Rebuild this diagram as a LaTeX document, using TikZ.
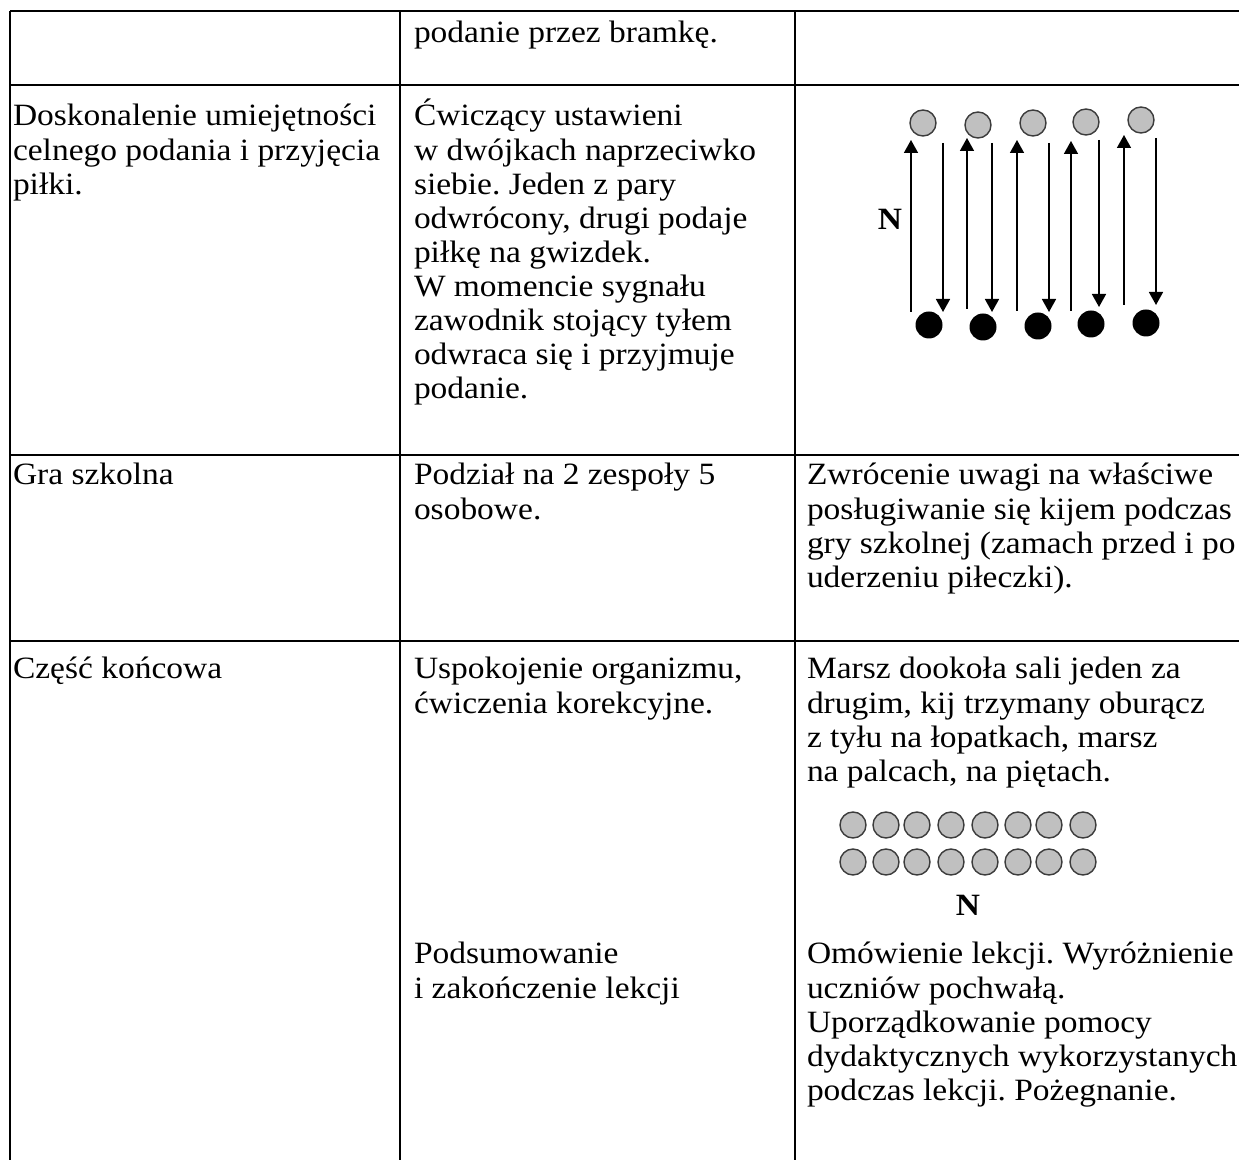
\documentclass[tikz,border=0pt]{standalone}
\usepackage{fontspec}
\setmainfont{Liberation Serif}[FakeStretch=1.08]
\usetikzlibrary{arrows.meta}
\frenchspacing

\definecolor{ballgray}{RGB}{192,192,192}
\definecolor{rimgray}{RGB}{60,60,60}

\tikzset{every picture/.style={line width=1pt}}
\tikzset{
  cell/.style={anchor=base west, inner sep=0pt, font=\fontsize{15.5}{17}\selectfont},
  mark N/.style={anchor=base, inner sep=0pt, font=\fontsize{15.5}{17}\selectfont\bfseries},
  ball/.style={circle, draw=rimgray, fill=ballgray, line width=0.7pt, minimum size=13pt, inner sep=0pt},
  blackball/.style={circle, fill=black, minimum size=13.5pt, inner sep=0pt},
  pass/.style={-{Triangle[length=6.5pt,width=7pt]}, line width=0.8pt}
}

\begin{document}
\begin{tikzpicture}[x=0.5pt,y=0.5pt,yscale=-1]
%set diagram size to the page
\useasboundingbox (0,0) rectangle (1239,1160);

%Table rules
\draw (10,11) -- (1239,11);
\draw (10,85) -- (1239,85);
\draw (10,455) -- (1239,455);
\draw (10,641) -- (1239,641);
\draw (10,11) -- (10,1160);
\draw (400,11) -- (400,1160);
\draw (795,11) -- (795,1160);

% Text Node
\node[cell] (r1b) at (413,43) {podanie przez bramkę.};

% Text Node
\foreach \t [count=\i from 0] in {Doskonalenie umiejętności, celnego podania i przyjęcia, piłki.}
  \node[cell] (r2a-\i) at (12,126+34.1*\i) {\t};
% Text Node
\foreach \t [count=\i from 0] in {Ćwiczący ustawieni, w dwójkach naprzeciwko, siebie. Jeden z pary,
    {odwrócony, drugi podaje}, piłkę na gwizdek., W momencie sygnału,
    zawodnik stojący tyłem, odwraca się i przyjmuje, podanie.}
  \node[cell] (r2b-\i) at (413,126+34.1*\i) {\t};

%Shape: pairs facing each other
\foreach \gx/\gy/\bx/\by [count=\i] in {923/123/929/325, 978/125/983/327, 1033/123/1038/326, 1086/122/1091/324, 1141/120/1146/323}{
  \node[ball] (top-\i) at (\gx,\gy) {};
  \node[blackball] (bot-\i) at (\bx,\by) {};
}
%Straight Lines: passes
\foreach \ux/\ua/\ub/\dx/\da/\db in {911/312/140/943/143/312, 967/309/138/992/143/312, 1017/311/140/1049/143/312,
    1071/311/141/1099/140/307, 1124/305/135/1156/138/305}{
  \draw[pass] (\ux,\ua) -- (\ux,\ub);
  \draw[pass] (\dx,\da) -- (\dx,\db);
}
% Text Node
\node[mark N] (n1) at (890,230) {N};

% Text Node
\node[cell] (r3a) at (12,485) {Gra szkolna};
\foreach \t [count=\i from 0] in {Podział na 2 zespoły 5, osobowe.}
  \node[cell] (r3b-\i) at (413,485+34.1*\i) {\t};
\foreach \t [count=\i from 0] in {Zwrócenie uwagi na właściwe, posługiwanie się kijem podczas,
    gry szkolnej (zamach przed i po, uderzeniu piłeczki).}
  \node[cell] (r3c-\i) at (806,485+34.1*\i) {\t};

% Text Node
\node[cell] (r4a) at (12,679) {Część końcowa};
\foreach \t [count=\i from 0] in {{Uspokojenie organizmu,}, ćwiczenia korekcyjne.}
  \node[cell] (r4b-\i) at (413,679+34.1*\i) {\t};
\foreach \t [count=\i from 0] in {Marsz dookoła sali jeden za, {drugim, kij trzymany oburącz},
    {z tyłu na łopatkach, marsz}, {na palcach, na piętach.}}
  \node[cell] (r4c-\i) at (806,679+34.1*\i) {\t};

%Shape: two ranks of pupils
\foreach \r/\y in {1/825, 2/862}
  \foreach \x [count=\c] in {853,886,917,951,985,1018,1049,1083}
    \node[ball] (rank\r-\c) at (\x,\y) {};
% Text Node
\node[mark N] (n2) at (968,916) {N};

% Text Node
\foreach \t [count=\i from 0] in {Podsumowanie, i zakończenie lekcji}
  \node[cell] (r5b-\i) at (413,964+34.1*\i) {\t};
\foreach \t [count=\i from 0] in {Omówienie lekcji. Wyróżnienie, uczniów pochwałą., Uporządkowanie pomocy,
    dydaktycznych wykorzystanych, podczas lekcji. Pożegnanie.}
  \node[cell] (r5c-\i) at (806,964+34.1*\i) {\t};

\end{tikzpicture}
\end{document}
